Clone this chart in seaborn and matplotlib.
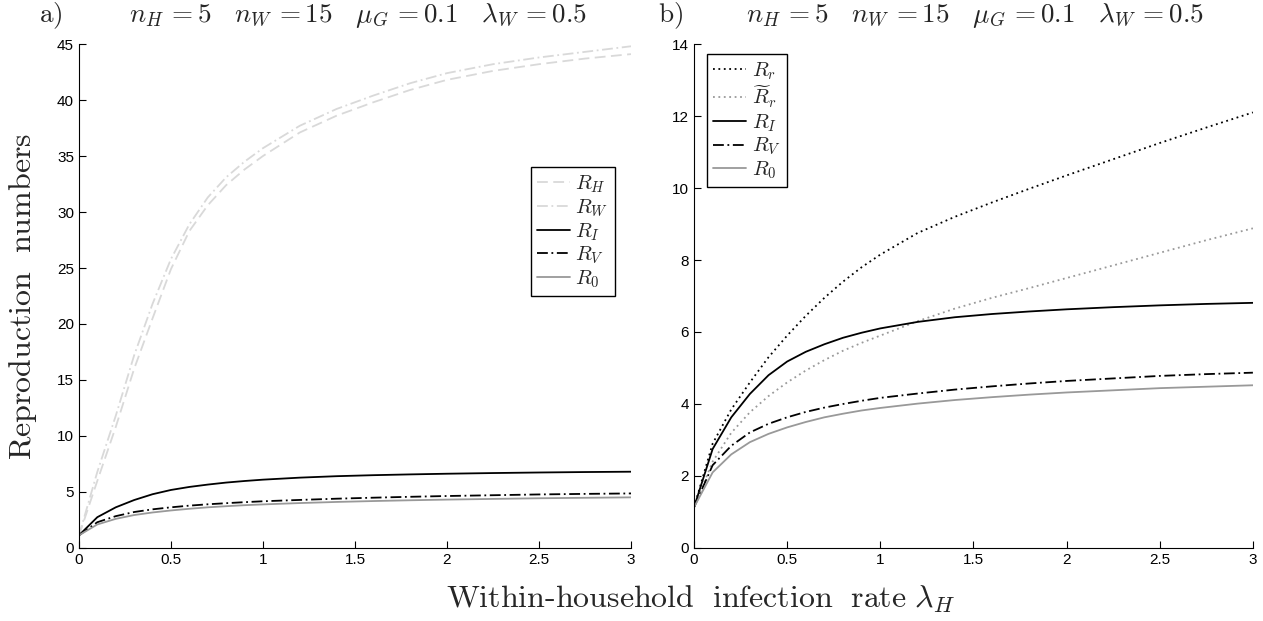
import matplotlib
matplotlib.use("Agg")
import matplotlib.pyplot as plt
import seaborn as sns
import pandas as pd
import numpy as np

# ---- data ----
lam_H = [0.0, 0.1, 0.2, 0.3, 0.4, 0.5, 0.6, 0.7, 0.8, 0.9, 1.0,
         1.2, 1.4, 1.6, 1.8, 2.0, 2.25, 2.5, 2.75, 3.0]

R_H = [1.1, 6.0, 10.8, 16.0, 20.5, 24.9, 28.3, 30.6, 32.4, 33.8, 35.0,
       37.1, 38.6, 39.8, 40.9, 41.8, 42.6, 43.2, 43.7, 44.1]
R_W = [1.1, 6.8, 11.8, 17.2, 21.8, 25.8, 28.9, 31.3, 33.1, 34.5, 35.7,
       37.7, 39.2, 40.4, 41.5, 42.4, 43.2, 43.8, 44.3, 44.8]
R_I = [1.13, 2.75, 3.63, 4.28, 4.8, 5.18, 5.45, 5.66, 5.84, 5.98, 6.1,
       6.28, 6.41, 6.5, 6.57, 6.63, 6.69, 6.74, 6.78, 6.81]
R_V = [1.13, 2.3, 2.84, 3.21, 3.45, 3.63, 3.78, 3.9, 4.0, 4.09, 4.17,
       4.29, 4.4, 4.49, 4.57, 4.64, 4.71, 4.78, 4.83, 4.87]
R_0 = [1.13, 2.1, 2.6, 2.94, 3.17, 3.35, 3.5, 3.63, 3.73, 3.82, 3.89,
       4.01, 4.11, 4.19, 4.26, 4.32, 4.38, 4.44, 4.48, 4.52]
R_r = [1.13, 2.9, 3.85, 4.6, 5.3, 5.9, 6.45, 6.95, 7.4, 7.8, 8.15,
       8.75, 9.2, 9.6, 9.98, 10.35, 10.8, 11.25, 11.68, 12.1]
R_r_tilde = [1.13, 2.4, 3.2, 3.77, 4.22, 4.6, 4.93, 5.22, 5.48, 5.7, 5.9,
             6.3, 6.65, 6.95, 7.22, 7.5, 7.85, 8.2, 8.55, 8.88]

x_ticks = [0, 0.5, 1, 1.5, 2, 2.5, 3]
x_tick_labels = ["0", "0.5", "1", "1.5", "2", "2.5", "3"]
ya_ticks = [0, 5, 10, 15, 20, 25, 30, 35, 40, 45]
yb_ticks = [0, 2, 4, 6, 8, 10, 12, 14]

title_params = r"$n_H\,{=}5\quad n_W\,{=}15\quad \mu_G\,{=}0.1\quad \lambda_W\,{=}0.5$"

df = pd.DataFrame({"lam": lam_H, "R_H": R_H, "R_W": R_W, "R_I": R_I,
                   "R_V": R_V, "R_0": R_0, "R_r": R_r, "R_rt": R_r_tilde})

# ---- style ----
sns.set_style("ticks")
plt.rcParams["font.family"] = ["Liberation Sans", "DejaVu Sans"]
plt.rcParams["mathtext.fontset"] = "cm"
plt.rcParams["xtick.direction"] = "in"
plt.rcParams["ytick.direction"] = "in"

fig = plt.figure(figsize=(12.63, 6.21), dpi=100)
axa = fig.add_axes([0.0625, 0.1176, 0.4371, 0.8115])
axb = fig.add_axes([0.5495, 0.1176, 0.4425, 0.8115])

light = "#d9d9d9"
mid = "#999999"
lw = 1.3
dashdot = (0, (6, 2, 1, 2))

# panel a
sns.lineplot(data=df, x="lam", y="R_H", ax=axa, color=light, lw=lw,
             linestyle=(0, (6, 3)), label=r"$R_H$")
sns.lineplot(data=df, x="lam", y="R_W", ax=axa, color=light, lw=lw,
             linestyle=dashdot, label=r"$R_W$")
sns.lineplot(data=df, x="lam", y="R_I", ax=axa, color="black", lw=lw,
             linestyle="-", label=r"$R_I$")
sns.lineplot(data=df, x="lam", y="R_V", ax=axa, color="black", lw=lw,
             linestyle=dashdot, label=r"$R_V$")
sns.lineplot(data=df, x="lam", y="R_0", ax=axa, color=mid, lw=lw,
             linestyle="-", label=r"$R_0$")

# panel b
sns.lineplot(data=df, x="lam", y="R_r", ax=axb, color="black", lw=lw,
             linestyle=(0, (1, 2)), label=r"$R_r$")
sns.lineplot(data=df, x="lam", y="R_rt", ax=axb, color=mid, lw=lw,
             linestyle=(0, (1, 2)), label=r"$\widetilde{R}_r$")
sns.lineplot(data=df, x="lam", y="R_I", ax=axb, color="black", lw=lw,
             linestyle="-", label=r"$R_I$")
sns.lineplot(data=df, x="lam", y="R_V", ax=axb, color="black", lw=lw,
             linestyle=dashdot, label=r"$R_V$")
sns.lineplot(data=df, x="lam", y="R_0", ax=axb, color=mid, lw=lw,
             linestyle="-", label=r"$R_0$")

for ax, yt, ymax in [(axa, ya_ticks, 45), (axb, yb_ticks, 14)]:
    ax.set_xlim(0, 3)
    ax.set_ylim(0, ymax)
    ax.set_xticks(x_ticks)
    ax.set_xticklabels(x_tick_labels)
    ax.set_yticks(yt)
    ax.set_yticklabels([str(v) for v in yt])
    ax.tick_params(axis="both", labelsize=11, length=5, width=0.8,
                   direction="in", colors="black")
    for s in ["top", "right"]:
        ax.spines[s].set_visible(False)
    for s in ["left", "bottom"]:
        ax.spines[s].set_linewidth(0.8)
        ax.spines[s].set_color("black")
    ax.set_xlabel("")
    ax.set_ylabel("")

leg_kw = dict(fontsize=15, frameon=True, fancybox=False, framealpha=1,
              edgecolor="black", handlelength=1.6, handletextpad=0.25,
              labelspacing=0.1, borderpad=0.3, borderaxespad=0)
leg_a = axa.legend(loc="upper left", bbox_to_anchor=(0.818, 0.755), **leg_kw)
leg_a.get_frame().set_linewidth(1.0)
leg_b = axb.legend(loc="upper left", bbox_to_anchor=(0.023, 0.98), **leg_kw)
leg_b.get_frame().set_linewidth(1.0)

# titles
fig.text(0.031, 0.975, r"$\mathrm{a)}$", fontsize=19.5, va="center", ha="left")
fig.text(0.521, 0.975, r"$\mathrm{b)}$", fontsize=19.5, va="center", ha="left")
fig.text(0.283, 0.975, title_params, fontsize=19.5, va="center", ha="center")
fig.text(0.772, 0.975, title_params, fontsize=19.5, va="center", ha="center")

fig.text(0.018, 0.523, r"$\mathrm{Reproduction\ \ numbers}$", fontsize=23,
         rotation=90, va="center", ha="center")
fig.text(0.555, 0.035, r"$\mathrm{Within\text{-}household\ \ infection\ \ rate}\ \lambda_H$",
         fontsize=23, va="center", ha="center")

fig.savefig("out.png", dpi=100)
